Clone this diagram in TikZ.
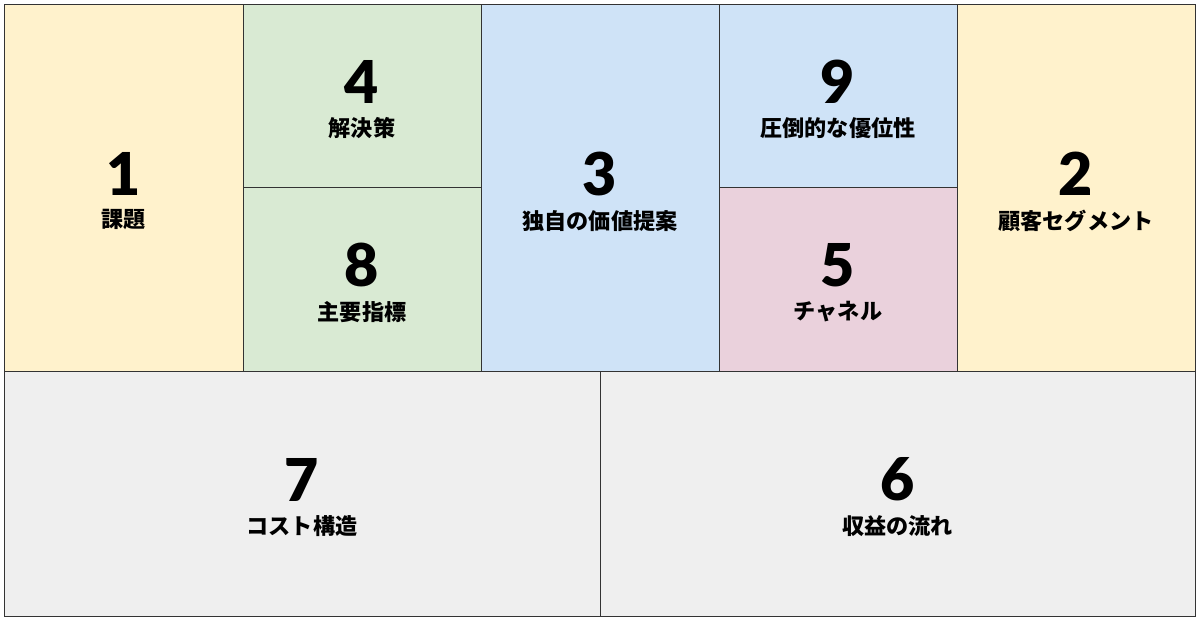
\documentclass[tikz,border=0pt]{standalone}
\usepackage{fontspec}
\usepackage{tikz}
\usetikzlibrary{positioning}
\usepackage{xcolor}

\newfontfamily\numfont{Lato Black}
\newfontfamily\jpfont{Noto Sans CJK JP}

\definecolor{canyellow}{HTML}{FFF2CC}
\definecolor{cangreen}{HTML}{D9EAD3}
\definecolor{canblue}{HTML}{CFE3F7}
\definecolor{canpink}{HTML}{EAD1DC}
\definecolor{cangray}{HTML}{EFEFEF}
\definecolor{canline}{HTML}{333333}

\begin{document}
\begin{tikzpicture}[x=.05cm,y=-.05cm,
  num/.style={inner sep=0pt,font=\numfont\fontsize{84}{84}\selectfont},
  lbl/.style={inner sep=0pt,font=\jpfont\bfseries\fontsize{31.5}{31.5}\selectfont},
  cell/.style={draw=canline,line width=.8pt}]

  \useasboundingbox (0,0) rectangle (1200,622);
  \def \dy {14}

  % top row
  \begin{scope}
    % 1
    \draw[cell,fill=canyellow] (4,4) rectangle (243,371);
    \node[num] (n1) at (123.5,{187.5-\dy}) {1};
    \node[lbl,below=.72cm of n1] (l1) {課題};

    % 4
    \draw[cell,fill=cangreen] (243,4) rectangle (481,187);
    \node[num] (n4) at (362,{95.5-\dy}) {4};
    \node[lbl,below=.72cm of n4] (l4) {解決策};

    % 8
    \draw[cell,fill=cangreen] (243,187) rectangle (481,371);
    \node[num] (n8) at (362,{279-\dy}) {8};
    \node[lbl,below=.72cm of n8] (l8) {主要指標};

    % 3
    \draw[cell,fill=canblue] (481,4) rectangle (719,371);
    \node[num] (n3) at (600,{187.5-\dy}) {3};
    \node[lbl,below=.72cm of n3] (l3) {独自の価値提案};

    % 9
    \draw[cell,fill=canblue] (719,4) rectangle (957,187);
    \node[num] (n9) at (838,{95.5-\dy}) {9};
    \node[lbl,below=.72cm of n9] (l9) {圧倒的な優位性};

    % 5
    \draw[cell,fill=canpink] (719,187) rectangle (957,371);
    \node[num] (n5) at (838,{279-\dy}) {5};
    \node[lbl,below=.72cm of n5] (l5) {チャネル};

    % 2
    \draw[cell,fill=canyellow] (957,4) rectangle (1195,371);
    \node[num] (n2) at (1076,{187.5-\dy}) {2};
    \node[lbl,below=.72cm of n2] (l2) {顧客セグメント};
  \end{scope}

  % bottom row
  \begin{scope}
    % 7
    \draw[cell,fill=cangray] (4,371) rectangle (600,616);
    \node[num] (n7) at (302,{493.5-\dy}) {7};
    \node[lbl,below=.72cm of n7] (l7) {コスト構造};

    % 6
    \draw[cell,fill=cangray] (600,371) rectangle (1195,616);
    \node[num] (n6) at (897.5,{493.5-\dy}) {6};
    \node[lbl,below=.72cm of n6] (l6) {収益の流れ};
  \end{scope}

  % frame
  \draw[canline,line width=1.4pt] (4,4) rectangle (1195,616);

\end{tikzpicture}
\end{document}
